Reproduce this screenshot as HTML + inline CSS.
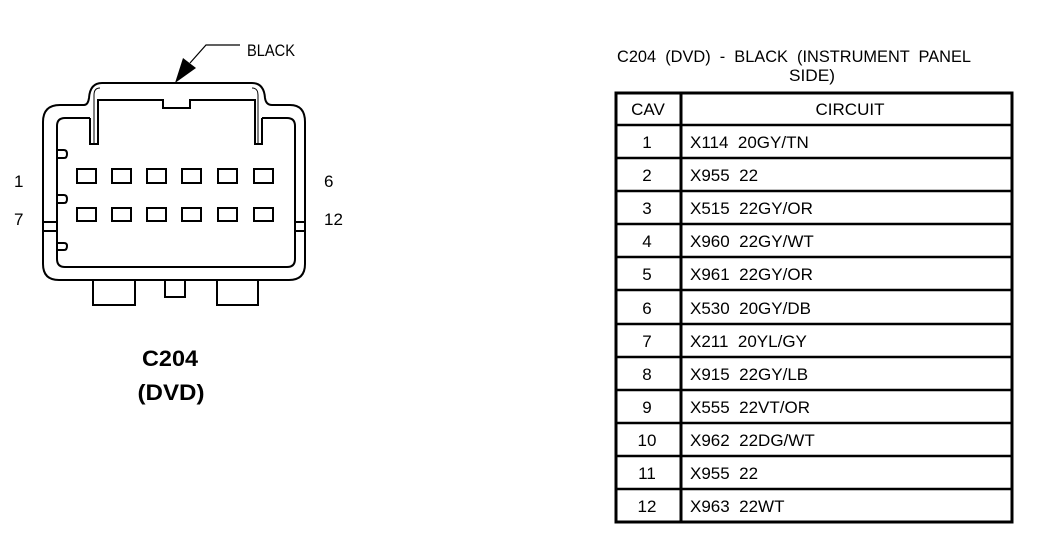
<!DOCTYPE html>
<html><head><meta charset="utf-8"><style>
html,body{margin:0;padding:0;background:#fff;}
svg{display:block;}
text{font-family:"Liberation Sans",sans-serif;fill:#000;white-space:pre;}
</style></head><body>
<svg width="1056" height="546" viewBox="0 0 1056 546" xmlns="http://www.w3.org/2000/svg" xml:space="preserve">
<g fill="none" stroke="#000" stroke-width="2">
<path d="M43,122 Q43,105 60,105 L84,105 Q88,105 89,98 Q90,83 102,83 L252,83 Q264,83 265,98 Q266,105 272,105 L290,105 Q305,105 305,122 L305,264 Q305,280 289,280 L59,280 Q43,280 43,264 Z"/>
<path d="M90,118 L65,118 Q57,118 57,126 L57,259 Q57,267 65,267 L287,267 Q295,267 295,259 L295,126 Q295,118 287,118 L262,118"/>
<path d="M90,118 L90,144 L98,144 L98,100 L163,100 L163,108 L190,108 L190,100 L255,100 L255,144 L262,144 L262,118"/>
<path d="M94,144 L94,95 Q94,88 100,88" stroke-width="1"/>
<path d="M258,144 L258,95 Q258,88 252,88" stroke-width="1"/>
<path d="M57,150 L64,150 Q67,150 67,154 Q67,158 64,158 L57,158"/>
<path d="M57,195 L64,195 Q67,195 67,199 Q67,203 64,203 L57,203"/>
<path d="M57,243 L64,243 Q67,243 67,246 Q67,250 64,250 L57,250"/>
<path d="M43,222 L57,222 M43,231 L57,231 M295,222 L305,222 M295,231 L305,231"/>
<path d="M93,280 L93,305 L135,305 L135,280"/>
<path d="M165,280 L165,297 L185,297 L185,280"/>
<path d="M217,280 L217,305 L258,305 L258,280"/>
<rect x="77" y="169" width="19" height="14"/><rect x="112" y="169" width="19" height="14"/><rect x="147" y="169" width="19" height="14"/><rect x="182" y="169" width="19" height="14"/><rect x="218" y="169" width="19" height="14"/><rect x="254" y="169" width="19" height="14"/>
<rect x="77" y="208" width="19" height="13"/><rect x="112" y="208" width="19" height="13"/><rect x="147" y="208" width="19" height="13"/><rect x="182" y="208" width="19" height="13"/><rect x="218" y="208" width="19" height="13"/><rect x="254" y="208" width="19" height="13"/>
<path d="M240,45 L206,45 L190,63" stroke-width="1.2"/>
</g>
<polygon points="175,83 183,58 196,68" fill="#000"/>
<text x="247" y="56" font-size="17" textLength="48" lengthAdjust="spacingAndGlyphs">BLACK</text>
<text x="14" y="187" font-size="17">1</text>
<text x="14" y="225" font-size="17">7</text>
<text x="324" y="187" font-size="17">6</text>
<text x="324" y="225" font-size="17">12</text>
<text x="170" y="366" font-size="22" font-weight="bold" text-anchor="middle" textLength="56" lengthAdjust="spacingAndGlyphs">C204</text>
<text x="171" y="400" font-size="22" font-weight="bold" text-anchor="middle" textLength="67" lengthAdjust="spacingAndGlyphs">(DVD)</text>
<text x="617" y="62" font-size="17" textLength="354" lengthAdjust="spacingAndGlyphs">C204  (DVD)  -  BLACK  (INSTRUMENT  PANEL</text>
<text x="789" y="81" font-size="17" textLength="46" lengthAdjust="spacingAndGlyphs">SIDE)</text>
<g stroke="#000" fill="none">
<rect x="616" y="93" width="396" height="429" stroke-width="3"/>
<line x1="681" y1="93" x2="681" y2="522" stroke-width="3"/>
</g>
<g font-size="17">
<text x="648" y="115" text-anchor="middle">CAV</text>
<text x="850" y="115" text-anchor="middle">CIRCUIT</text>
</g>
<g stroke="#000" stroke-width="2.5">
<line x1="616" y1="125" x2="1012" y2="125"/><line x1="616" y1="158" x2="1012" y2="158"/><line x1="616" y1="191" x2="1012" y2="191"/><line x1="616" y1="224" x2="1012" y2="224"/><line x1="616" y1="257" x2="1012" y2="257"/><line x1="616" y1="290" x2="1012" y2="290"/><line x1="616" y1="324" x2="1012" y2="324"/><line x1="616" y1="357" x2="1012" y2="357"/><line x1="616" y1="390" x2="1012" y2="390"/><line x1="616" y1="423" x2="1012" y2="423"/><line x1="616" y1="456" x2="1012" y2="456"/><line x1="616" y1="489" x2="1012" y2="489"/>
</g>
<g font-size="17">
<text x="647" y="148" text-anchor="middle">1</text><text x="690" y="148">X114  20GY/TN</text>
<text x="647" y="181" text-anchor="middle">2</text><text x="690" y="181">X955  22</text>
<text x="647" y="214" text-anchor="middle">3</text><text x="690" y="214">X515  22GY/OR</text>
<text x="647" y="247" text-anchor="middle">4</text><text x="690" y="247">X960  22GY/WT</text>
<text x="647" y="280" text-anchor="middle">5</text><text x="690" y="280">X961  22GY/OR</text>
<text x="647" y="314" text-anchor="middle">6</text><text x="690" y="314">X530  20GY/DB</text>
<text x="647" y="347" text-anchor="middle">7</text><text x="690" y="347">X211  20YL/GY</text>
<text x="647" y="380" text-anchor="middle">8</text><text x="690" y="380">X915  22GY/LB</text>
<text x="647" y="413" text-anchor="middle">9</text><text x="690" y="413">X555  22VT/OR</text>
<text x="647" y="446" text-anchor="middle">10</text><text x="690" y="446">X962  22DG/WT</text>
<text x="647" y="479" text-anchor="middle">11</text><text x="690" y="479">X955  22</text>
<text x="647" y="512" text-anchor="middle">12</text><text x="690" y="512">X963  22WT</text>
</g>
</svg>
</body></html>
